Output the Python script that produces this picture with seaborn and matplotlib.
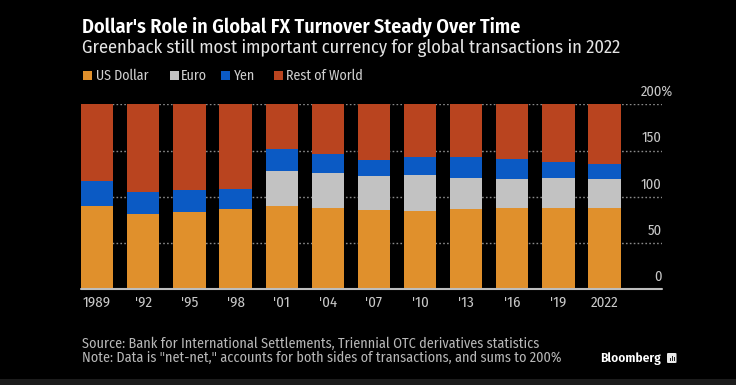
import numpy as np
import pandas as pd
import matplotlib
matplotlib.use("Agg")
import matplotlib.pyplot as plt
from matplotlib import font_manager
from matplotlib.patches import Rectangle, FancyBboxPatch
import seaborn as sns

# ---- data ----
years = ["1989", "'92", "'95", "'98", "'01", "'04", "'07", "'10", "'13", "'16", "'19", "2022"]
us_dollar = [90.0, 82.0, 83.3, 86.8, 89.9, 88.0, 85.6, 84.9, 87.0, 87.6, 88.3, 88.5]
euro = [0.0, 0.0, 0.0, 0.0, 37.9, 37.4, 37.0, 39.0, 33.4, 31.4, 32.3, 30.5]
yen = [27.0, 23.4, 24.1, 21.7, 23.5, 20.8, 17.2, 19.0, 23.0, 21.6, 16.8, 16.7]
total = [200.0] * 12
series_names = ["US Dollar", "Euro", "Yen", "Rest of World"]
ytick_vals = [0, 50, 100, 150, 200]

title = "Dollar's Role in Global FX Turnover Steady Over Time"
subtitle = "Greenback still most important currency for global transactions in 2022"
source = "Source: Bank for International Settlements, Triennial OTC derivatives statistics"
note = "Note: Data is \"net-net,\" accounts for both sides of transactions, and sums to 200%"

colors = {"US Dollar": "#E0902C", "Euro": "#C2C2C2", "Yen": "#0B5AC4", "Rest of World": "#B9441F"}

sns.set_theme(style="dark")
names = {f.name for f in font_manager.fontManager.ttflist}
FONT = [n for n in ["Fira Sans Condensed", "Open Sans"] if n in names][:1] + ["DejaVu Sans"]
plt.rcParams["font.family"] = FONT

W, H = 736, 385
fig = plt.figure(figsize=(W / 100, H / 100), dpi=100, facecolor="black")

def fx(px):
    return px / W

def fy(py):
    return 1 - py / H

ax_left, ax_right, ax_bottom, ax_top = 81, 662, 289.3, 104.5
ax = fig.add_axes([fx(ax_left), fy(ax_bottom), fx(ax_right - ax_left), (ax_bottom - ax_top) / H])
ax.set_facecolor("black")

df = pd.DataFrame({"year": years, "usd": us_dollar, "eur": euro, "yen": yen, "tot": total})
df["c_usd"] = df["usd"]
df["c_eur"] = df["usd"] + df["eur"]
df["c_yen"] = df["c_eur"] + df["yen"]

for col, name in [("tot", "Rest of World"), ("c_yen", "Yen"), ("c_eur", "Euro"), ("c_usd", "US Dollar")]:
    sns.barplot(data=df, x="year", y=col, order=years, color=colors[name], saturation=1,
                width=0.7, ax=ax, edgecolor="none", linewidth=0, zorder=3)

ax.set_xlim(-0.35, 12.245)
ax.set_ylim(0, 200)
ax.set_yticks(ytick_vals)
ax.set_yticklabels([])
ax.set_xticks(range(len(years)))
ax.set_xticklabels([])
ax.tick_params(axis="both", length=0)
ax.set_xlabel("")
ax.set_ylabel("")
for s in ax.spines.values():
    s.set_visible(False)
ax.grid(False)
for v in ytick_vals[1:]:
    ax.axhline(v, color="#8a8a8a", lw=1.0, ls=(0, (1.2, 1.6)), zorder=1)
ax.axhline(0, color="#bdbdbd", lw=1.5, zorder=4, clip_on=False)

renderer = fig.canvas.get_renderer()

def fit_text(x, y, s, target_w, weight="normal", color="white", size0=10, ha="left", **kw):
    t = fig.text(fx(x), fy(y), s, fontsize=size0, fontweight=weight, color=color,
                 ha=ha, va="baseline", family=FONT, **kw)
    w = t.get_window_extent(renderer).width
    t.set_fontsize(size0 * target_w / w)
    return t

def text_px(x, y, s, size, weight="normal", color="white", ha="left"):
    return fig.text(fx(x), fy(y), s, fontsize=size, fontweight=weight, color=color,
                    ha=ha, va="baseline", family=FONT)

# titles
fit_text(82, 32.7, title, 524 - 82, weight="semibold", color="#ffffff")
fit_text(82, 52.7, subtitle, 620 - 82, color="#e4e4e4")

# legend
leg_t = fit_text(286, 80, "Rest of World", 363 - 286, color="#d0d0d0")
leg_size = leg_t.get_fontsize()
sq_x = [83, 170, 221, 274]
tx_x = [96, 181, 234, 286]
for nm, sx, tx in zip(series_names, sq_x, tx_x):
    fig.patches.append(Rectangle((fx(sx), fy(80)), 9 / W, 9 / H, transform=fig.transFigure,
                                 facecolor=colors[nm], edgecolor="none"))
    if nm != "Rest of World":
        text_px(tx, 80, nm, leg_size, color="#d0d0d0")

# x tick labels
t0 = fit_text(97.9, 307.3, "1989", 27.7, color="#c8c8c8", ha="center")
xt_size = t0.get_fontsize()
t0.remove()
for i, lab in enumerate(years):
    xpix = ax.transData.transform((i, 0))[0]
    text_px(xpix, 307.3, lab, xt_size, color="#c8c8c8", ha="center")

# y tick labels (above gridlines, right side)
ref = fit_text(661.7, 143.3, "150", 20, color="#c8c8c8", ha="right")
yt_size = ref.get_fontsize()
ref.remove()
for v in ytick_vals:
    ypix = H - ax.transData.transform((0, v))[1]
    if v == 200:
        tmp = text_px(661.7, ypix - 8.3, "200", yt_size, color="#c8c8c8", ha="right")
        bb = tmp.get_window_extent(renderer)
        tmp.remove()
        text_px(bb.x0, ypix - 8.3, "200%", yt_size, color="#c8c8c8", ha="left")
    else:
        text_px(661.7, ypix - 8.3, str(v), yt_size, color="#c8c8c8", ha="right")

# footer
fs = fit_text(82, 348.3, source, 535 - 82, color="#b8b8b8")
text_px(82, 361.7, note, fs.get_fontsize(), color="#b8b8b8")

# Bloomberg mark
fit_text(600, 362.3, "Bloomberg", 61, weight="semibold", color="#ffffff")
fig.patches.append(FancyBboxPatch((fx(667), fy(363)), 9.5 / W, 10 / H, transform=fig.transFigure,
                                  boxstyle="round,pad=0,rounding_size=0.002",
                                  facecolor="#e8e8e8", edgecolor="none"))
for bx, bh in [(669.5, 3), (671.5, 5), (673.5, 4)]:
    fig.patches.append(Rectangle((fx(bx), fy(360.5)), 1.2 / W, bh / H, transform=fig.transFigure,
                                 facecolor="#222222", edgecolor="none"))

# bottom band
fig.patches.append(Rectangle((0, 0), 1, 6 / H, transform=fig.transFigure,
                             facecolor="#1c1c1c", edgecolor="none"))

fig.savefig("out.png", dpi=100, facecolor="black")
